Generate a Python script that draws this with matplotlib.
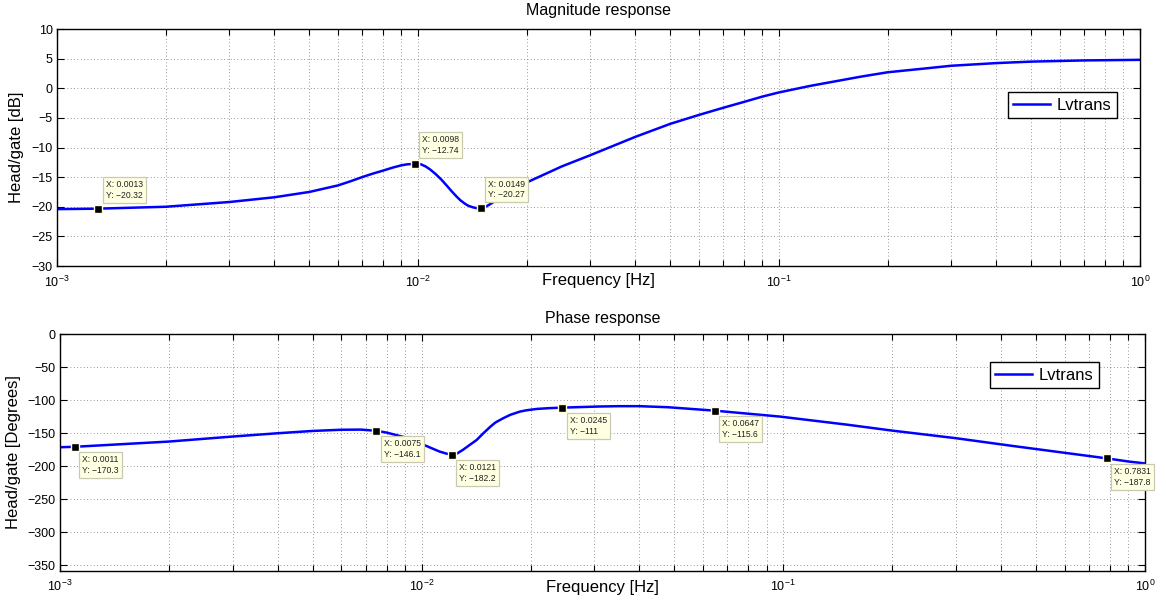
# Bode plot of Lvtrans: magnitude and phase response with data tips
import matplotlib
matplotlib.use('Agg')
import matplotlib.pyplot as plt
from matplotlib.ticker import LogLocator, FixedLocator, NullFormatter

plt.rcParams['font.family'] = ['Liberation Sans', 'DejaVu Sans']
plt.rcParams['mathtext.fontset'] = 'custom'
plt.rcParams['mathtext.rm'] = 'Liberation Sans'
plt.rcParams['mathtext.it'] = 'Liberation Sans:italic'
plt.rcParams['axes.unicode_minus'] = True

# Magnitude response
mag_freq = [0.001, 0.0013, 0.002, 0.003, 0.004, 0.005, 0.006, 0.0065, 0.007, 0.0075,
            0.008, 0.0085, 0.009, 0.0093, 0.0098, 0.0102, 0.0105, 0.0108, 0.0112,
            0.0116, 0.012, 0.0124, 0.0128, 0.0131, 0.0135, 0.0138, 0.0142, 0.0145,
            0.0149, 0.0153, 0.0158, 0.0163, 0.017, 0.0177, 0.0185, 0.019, 0.02,
            0.025, 0.03, 0.04, 0.05, 0.06, 0.07, 0.08, 0.09, 0.1, 0.122, 0.15,
            0.17, 0.2, 0.25, 0.3, 0.4, 0.5, 0.7, 1.0]
mag_db = [-20.4, -20.32, -20.0, -19.2, -18.4, -17.5, -16.4, -15.7, -15.0, -14.4,
          -13.9, -13.4, -13.0, -12.85, -12.74, -12.85, -13.2, -13.7, -14.5,
          -15.4, -16.4, -17.4, -18.3, -18.9, -19.5, -19.85, -20.1, -20.22,
          -20.27, -20.1, -19.6, -19.1, -18.6, -17.9, -17.2, -16.7, -15.9,
          -13.2, -11.3, -8.2, -6.0, -4.5, -3.3, -2.3, -1.4, -0.7, 0.4, 1.4,
          2.0, 2.7, 3.3, 3.8, 4.25, 4.5, 4.7, 4.8]

# Phase response
phase_freq = [0.001, 0.0011, 0.002, 0.003, 0.004, 0.005, 0.006, 0.0068, 0.0075,
              0.008, 0.009, 0.0095, 0.0103, 0.0112, 0.0117, 0.0121, 0.0125, 0.013,
              0.0135, 0.0142, 0.0148, 0.0155, 0.016, 0.0168, 0.0176, 0.0187, 0.0195,
              0.0208, 0.0225, 0.0245, 0.031, 0.035, 0.04, 0.048, 0.0647, 0.098, 0.15,
              0.2, 0.3, 0.43, 0.7831, 0.9, 1.0]
phase_deg = [-171.0, -170.3, -162.4, -154.8, -149.8, -146.3, -144.5, -144.3, -146.1,
             -148.8, -156.0, -161.0, -169.0, -177.5, -180.6, -182.2, -180.8, -175.0,
             -168.5, -159.9, -150.0, -139.7, -133.5, -127.1, -121.8, -117.0, -115.0,
             -113.0, -111.8, -111.0, -109.3, -108.8, -108.8, -110.4, -115.6, -124.6,
             -136.8, -145.8, -157.3, -169.0, -187.8, -192.6, -195.5]

# Data tips
mag_tip_x = [0.0013, 0.0098, 0.0149]
mag_tip_y = [-20.32, -12.74, -20.27]
phase_tip_x = [0.0011, 0.0075, 0.0121, 0.0245, 0.0647, 0.7831]
phase_tip_y = [-170.3, -146.1, -182.2, -111.0, -115.6, -187.8]

mag_yticks = [-30, -25, -20, -15, -10, -5, 0, 5, 10]
phase_yticks = [-350, -300, -250, -200, -150, -100, -50, 0]


def fmt(v):
    return ('%g' % v).replace('-', '\u2212')


def style_axes(ax, yticks):
    ax.set_xscale('log')
    ax.set_xlim(1e-3, 1)
    ax.xaxis.set_major_locator(FixedLocator([1e-3, 1e-2, 1e-1, 1]))
    ax.xaxis.set_minor_locator(LogLocator(base=10, subs=range(2, 10), numticks=20))
    ax.xaxis.set_minor_formatter(NullFormatter())
    ax.set_xticklabels(['$10^{-3}$', '$10^{-2}$', '$10^{-1}$', '$10^{0}$'])
    ax.yaxis.set_major_locator(FixedLocator(yticks))
    ax.tick_params(which='both', direction='in', top=True, right=True, labelsize=9, width=0.8)
    ax.tick_params(which='major', length=5)
    ax.tick_params(which='minor', length=4)
    ax.tick_params(axis='x', pad=6)
    ax.tick_params(axis='y', pad=3)
    ax.grid(True, which='major', ls=(0, (1, 3)), color='0.45', lw=0.6)
    ax.xaxis.grid(True, which='minor', ls=(0, (1, 3)), color='0.45', lw=0.6)
    for s in ax.spines.values():
        s.set_linewidth(1.0)


def add_tips(ax, xs, ys, above):
    for x, y in zip(xs, ys):
        ax.plot(x, y, 's', ms=5.5, mfc='k', mec='#ffffe0', mew=1.0, zorder=5)
        ax.annotate('X: ' + fmt(x) + '\nY: ' + fmt(y), xy=(x, y),
                    xytext=(7.5, 9) if above else (7.5, -8.5),
                    textcoords='offset pixels', fontsize=6.2, color='#222222',
                    ha='left', va='bottom' if above else 'top', linespacing=1.25,
                    bbox=dict(boxstyle='square,pad=0.35', fc='#ffffe1', ec='#c9c9b4', lw=0.9),
                    zorder=6)


fig = plt.figure(figsize=(11.66, 6.01), dpi=100)

# Magnitude
ax1 = fig.add_axes([0.0489, 0.5574, 0.9288, 0.3943])
ax1.plot(mag_freq, mag_db, color='#0000ff', lw=1.8, label='Lvtrans')
ax1.set_ylim(-30, 10)
style_axes(ax1, mag_yticks)
add_tips(ax1, mag_tip_x, mag_tip_y, above=True)
ax1.text(0.5, 1.080, 'Magnitude response', transform=ax1.transAxes,
         ha='center', va='center', fontsize=11.5)
ax1.set_xlabel('Frequency [Hz]', fontsize=12)
ax1.xaxis.set_label_coords(0.5, -0.063)
ax1.xaxis.label.set_va('center')
ax1.set_ylabel('Head/gate [dB]', fontsize=12)
ax1.yaxis.set_label_coords(-0.037, 0.5)
ax1.yaxis.label.set_va('center')
leg1 = ax1.legend(loc='upper right', bbox_to_anchor=(0.979, 0.735), fontsize=12,
                  fancybox=False, framealpha=1, edgecolor='k', borderpad=0.35,
                  handlelength=2.2, handletextpad=0.4, borderaxespad=0)
leg1.get_frame().set_linewidth(1.0)

# Phase
ax2 = fig.add_axes([0.05146, 0.0504, 0.9305, 0.3933])
ax2.plot(phase_freq, phase_deg, color='#0000ff', lw=1.8, label='Lvtrans')
ax2.set_ylim(-358, 0)
style_axes(ax2, phase_yticks)
add_tips(ax2, phase_tip_x, phase_tip_y, above=False)
ax2.text(0.5, 1.069, 'Phase response', transform=ax2.transAxes,
         ha='center', va='center', fontsize=11.5)
ax2.set_xlabel('Frequency [Hz]', fontsize=12)
ax2.xaxis.set_label_coords(0.5, -0.069)
ax2.xaxis.label.set_va('center')
ax2.set_ylabel('Head/gate [Degrees]', fontsize=12)
ax2.yaxis.set_label_coords(-0.0433, 0.5)
ax2.yaxis.label.set_va('center')
leg2 = ax2.legend(loc='upper right', bbox_to_anchor=(0.958, 0.884), fontsize=12,
                  fancybox=False, framealpha=1, edgecolor='k', borderpad=0.35,
                  handlelength=2.2, handletextpad=0.4, borderaxespad=0)
leg2.get_frame().set_linewidth(1.0)

fig.savefig('out.png', dpi=100)
